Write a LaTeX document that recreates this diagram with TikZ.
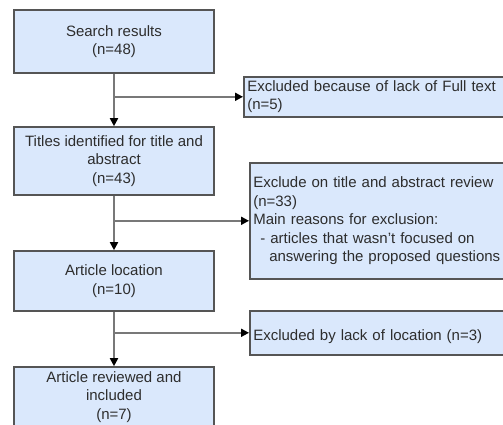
\documentclass[tikz,border=0pt]{standalone}
\usepackage{fontspec}
\setmainfont{Liberation Sans}
\usetikzlibrary{arrows.meta, calc}

\definecolor{boxfill}{RGB}{218,232,252}
\definecolor{boxline}{RGB}{85,85,85}
\definecolor{linkgray}{RGB}{120,120,120}
\definecolor{textgray}{RGB}{45,45,45}

\tikzset{
    mainbox/.style={draw=boxline, fill=boxfill, line width=1.6pt, text=textgray,
        minimum width=200pt, align=center,
        font=\fontsize{15}{18.5}\selectfont},
    sidebox/.style={draw=boxline, fill=boxfill, line width=1.6pt, text=textgray,
        anchor=north west, text width=260pt, inner xsep=3.5pt, align=left,
        font=\fontsize{15}{18.5}\selectfont},
    flow/.style={draw=linkgray, line width=1.8pt,
        -{Triangle[length=8pt,width=8pt,color=black]}}
}

\begin{document}
\begin{tikzpicture}[x=1pt,y=-1pt]
        \useasboundingbox (0,0) rectangle (503,425);

        % main column
        \node[mainbox, minimum height=63pt] (search) at (114,41.5) {Search results\\(n=48)};
        \node[mainbox, minimum height=68pt] (titles) at (114,161) {Titles identified for title and\\abstract\\(n=43)};
        \node[mainbox, minimum height=60pt] (location) at (114,281) {Article location\\(n=10)};
        \node[mainbox, minimum height=60pt] (included) at (114,397) {Article reviewed and\\included\\(n=7)};

        % excluded records
        \node[sidebox, minimum height=40pt] (nofull) at (243,76) {Excluded because of lack of Full text\\(n=5)};
        \node[sidebox, minimum height=116pt] (abstrev) at (249,162) {Exclude on title and abstract review\\(n=33)\\Main reasons for exclusion:\\\hspace*{7pt}- articles that wasn't focused on\\\hspace*{16pt}answering the proposed questions};
        \node[sidebox, minimum height=44pt] (noloc) at (249,310) {\mbox{}\\Excluded by lack of location (n=3)};

        \coordinate (b1) at (search.south |- nofull.west);
        \coordinate (b2) at (titles.south |- abstrev.west);
        \coordinate (b3) at (location.south |- noloc.west);

        \draw[flow] (search.south) -- (titles.north);
        \draw[flow] (titles.south) -- (location.north);
        \draw[flow] (location.south) -- (included.north);

        \draw[flow] (b1) -- (nofull.west);
        \draw[flow] (b2) -- (abstrev.west);
        \draw[flow] (b3) -- (noloc.west);
    \end{tikzpicture}
\end{document}
